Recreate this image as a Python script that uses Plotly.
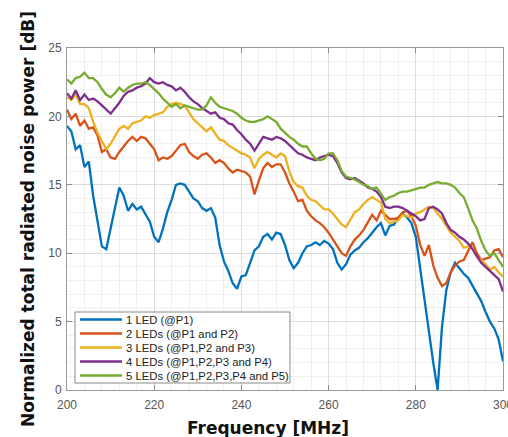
import plotly.graph_objects as go

freq = list(range(200, 301))

led1 = [19.3, 18.9, 17.6, 17.9, 16.3, 16.7, 14.2, 12.4, 10.5, 10.3,
        11.8, 13.5, 14.8, 14.2, 13.1, 13.6, 13.2, 13.4, 12.8, 12.3,
        11.2, 10.8, 11.8, 13.0, 13.9, 15.0, 15.1, 15.0, 14.5, 14.0,
        13.8, 13.3, 13.1, 13.3, 12.6, 10.6, 9.4, 8.7, 7.8, 7.4,
        8.3, 8.4, 9.3, 10.2, 10.5, 11.2, 11.4, 11.0, 11.5, 11.4,
        10.6, 9.5, 8.9, 9.3, 10.0, 10.5, 10.6, 10.8, 10.6, 10.9,
        10.7, 10.3, 9.3, 8.8, 9.2, 9.9, 10.2, 10.4, 10.8, 11.1,
        11.5, 11.9, 12.2, 11.3, 12.0, 12.1, 12.6, 12.9, 12.6, 12.2,
        11.2, 8.8, 6.8, 4.2, 2.0, 0.0, 4.6, 7.3, 8.6, 9.3,
        8.9, 8.5, 8.2, 7.6, 7.1, 6.5, 5.7, 5.0, 4.5, 3.7,
        2.1]

led2 = [20.5, 19.8, 20.2, 19.3, 19.7, 19.1, 19.2, 18.6, 17.4, 17.6,
        17.0, 16.9, 17.4, 17.8, 18.2, 18.5, 18.2, 18.5, 18.4, 18.0,
        17.6, 16.8, 17.0, 16.9, 17.1, 17.5, 17.9, 18.0, 17.4, 17.1,
        16.9, 17.2, 17.3, 17.0, 16.6, 16.8, 16.6, 16.2, 15.9, 16.1,
        16.0, 15.9, 15.6, 14.3, 15.3, 16.2, 16.6, 16.3, 16.5, 16.5,
        15.9, 15.1, 14.5, 13.8, 13.9, 13.1, 12.7, 12.4, 12.2, 11.9,
        11.5, 11.0, 10.4, 10.0, 9.8, 10.5, 11.0, 11.3, 11.7, 12.2,
        12.8, 12.4, 13.1, 12.8, 12.5, 12.5, 12.6, 13.0, 13.1, 12.7,
        12.0, 10.6, 9.8, 10.6, 9.1, 8.2, 7.6, 7.8, 8.6, 9.1,
        9.4, 9.5, 10.1, 10.8, 10.0, 9.5, 9.6, 9.7, 10.2, 10.3,
        9.7]

led3 = [21.4, 21.2, 21.6, 20.9, 20.9, 20.6, 19.6, 18.8, 18.2, 17.6,
        18.0, 18.5, 19.1, 19.3, 19.1, 19.5, 19.6, 19.7, 20.0, 19.9,
        20.1, 20.2, 20.3, 20.7, 20.9, 21.0, 20.9, 20.8, 20.3, 19.8,
        19.5, 19.2, 18.9, 19.2, 18.7, 18.3, 18.2, 17.9, 17.7, 17.5,
        17.3, 17.2, 17.0, 16.2, 16.9, 17.2, 17.4, 17.2, 17.0, 17.3,
        17.1, 16.0, 15.2, 14.9, 14.8, 14.2, 13.9, 13.8, 13.5, 13.2,
        13.2, 12.9, 12.5, 12.1, 11.9, 12.4, 13.0, 13.2, 13.6, 13.9,
        14.1, 13.9, 13.7, 12.5, 12.2, 12.3, 12.4, 12.8, 12.7, 12.6,
        12.9, 13.0, 13.2, 13.4, 13.3, 12.9, 12.5, 12.0, 11.5, 11.2,
        10.9, 10.4, 10.5, 10.4, 9.7, 9.5, 9.2, 8.8, 9.0, 8.6,
        8.3]

led4 = [21.7, 21.3, 21.9, 21.2, 21.6, 21.2, 21.3, 21.1, 20.8, 20.5,
        20.2, 20.6, 21.0, 21.5, 21.8, 21.9, 22.1, 22.2, 22.4, 22.8,
        22.5, 22.4, 22.5, 22.3, 22.2, 21.9, 22.1, 21.8, 21.4, 21.1,
        20.9, 20.6, 20.4, 20.2, 20.3, 19.9, 19.8, 19.5, 19.4, 19.0,
        18.7, 18.3, 18.0, 17.5, 18.0, 18.5, 18.4, 18.3, 18.5, 18.4,
        18.2, 17.9, 17.6, 17.3, 17.2, 17.0, 16.9, 16.8, 17.0, 17.1,
        17.2, 17.1, 16.6, 15.9, 15.5, 15.4, 15.5, 15.3, 15.1, 14.8,
        14.7, 14.5, 14.1, 13.4, 13.3, 13.4, 13.4, 13.3, 13.1, 12.9,
        12.7, 12.4, 12.5, 13.3, 13.4, 13.2, 12.9, 12.2, 11.7, 11.5,
        11.2, 11.0, 10.7, 10.3, 9.8, 9.3, 9.0, 8.7, 8.4, 8.1,
        7.2]

led5 = [22.7, 22.4, 22.8, 22.9, 23.2, 22.8, 22.8, 22.5, 22.0, 21.6,
        21.4, 21.7, 22.1, 21.8, 22.1, 22.3, 22.4, 22.4, 22.5, 22.3,
        22.0, 21.7, 21.3, 21.0, 20.7, 20.9, 20.6, 20.8, 20.7, 20.6,
        20.5, 20.5, 20.8, 21.4, 21.0, 20.7, 20.6, 20.5, 20.4, 20.2,
        19.9, 19.7, 19.6, 19.6, 19.7, 19.8, 20.0, 19.8, 19.6, 19.1,
        18.8, 18.5, 18.3, 18.0, 17.8, 17.8, 17.3, 16.9, 16.8, 16.9,
        17.3, 17.3, 16.8, 16.0, 15.6, 15.5, 15.4, 15.2, 15.0, 14.9,
        14.7, 14.8, 14.3, 13.9, 14.1, 14.2, 14.4, 14.5, 14.5, 14.6,
        14.7, 14.8, 14.8, 15.0, 15.1, 15.2, 15.1, 15.1, 15.0, 14.8,
        14.4, 14.1, 13.3, 12.4, 11.8, 10.9, 10.2, 9.8, 10.0, 9.5,
        9.0]

names = ["1 LED (@P1)",
         "2 LEDs (@P1 and P2)",
         "3 LEDs (@P1,P2 and P3)",
         "4 LEDs (@P1,P2,P3 and P4)",
         "5 LEDs (@P1,P2,P3,P4 and P5)"]
series = [led1, led2, led3, led4, led5]
colors = ["#0072BD", "#D95319", "#EDB120", "#7E2F8E", "#77AC30"]

x_ticks = [200, 220, 240, 260, 280, 300]
y_ticks = [0, 5, 10, 15, 20, 25]

fig = go.Figure()
for name, vals, col in zip(names, series, colors):
    fig.add_trace(go.Scatter(x=freq, y=vals, mode="lines", name=name,
                             line=dict(color=col, width=2.3),
                             showlegend=False))

tick_font = dict(family="Liberation Sans, Arial, sans-serif", size=12, color="#555555")
axis_common = dict(
    ticks="inside", ticklen=5, tickwidth=1, tickcolor="#8a8a8a",
    showline=True, linecolor="#9a9a9a", linewidth=1, mirror="ticks",
    showgrid=True, gridcolor="#dcdcdc", gridwidth=1,
    zeroline=False, tickfont=tick_font, ticklabeloverflow="allow",
    automargin=False,
)

fig.update_xaxes(range=[200, 300], tickvals=x_ticks, ticktext=[str(v) for v in x_ticks],
                 minor=dict(dtick=4, tick0=200, showgrid=True, gridcolor="#f0f0f0", ticks=""),
                 ticklabelstandoff=4,
                 **axis_common)
fig.update_yaxes(range=[0, 25], tickvals=y_ticks, ticktext=[str(v) for v in y_ticks],
                 minor=dict(dtick=1, tick0=0, showgrid=True, gridcolor="#f0f0f0", ticks=""),
                 ticklabelstandoff=2,
                 title=dict(text="Normalized total radiated noise power [dB]",
                            font=dict(family="DejaVu Sans, sans-serif", size=17,
                                      color="#111111", weight="bold"),
                            standoff=9),
                 **axis_common)

# manual legend box (MATLAB-style, compact rows)
L, R, B, T = 67, 503, 390, 48
W, H = R - L, B - T
def px(xp):
    return (xp - L) / W
def py(yp):
    return (B - yp) / H

shapes = [dict(type="rect", xref="paper", yref="paper",
               x0=px(75), x1=px(290), y0=py(383), y1=py(312),
               fillcolor="white", line=dict(color="#8a8a8a", width=1), layer="above")]
annotations = []
row_y = [319.5, 333.5, 347.5, 361.5, 375.5]
for name, col, ry in zip(names, colors, row_y):
    shapes.append(dict(type="line", xref="paper", yref="paper",
                       x0=px(80), x1=px(122), y0=py(ry), y1=py(ry),
                       line=dict(color=col, width=2.3), layer="above"))
    annotations.append(dict(text=name, xref="paper", yref="paper",
                            x=px(124), y=py(ry), xanchor="left", yanchor="middle",
                            showarrow=False,
                            font=dict(family="Liberation Sans, Arial, sans-serif",
                                      size=11.3, color="#222222")))

annotations.append(dict(text="Frequency [MHz]", xref="paper", yref="paper",
                        x=px(268), y=py(428), xanchor="center", yanchor="middle",
                        showarrow=False,
                        font=dict(family="DejaVu Sans, sans-serif", size=17,
                                  color="#111111", weight="bold")))

fig.update_layout(
    width=508, height=437,
    margin=dict(l=L, r=508 - R, t=T, b=437 - B),
    paper_bgcolor="white", plot_bgcolor="white",
    shapes=shapes, annotations=annotations,
    font=dict(family="DejaVu Sans, sans-serif"),
)

fig.write_html("out.html", config={"displayModeBar": False},
               post_script="document.body.style.margin='0px';")
